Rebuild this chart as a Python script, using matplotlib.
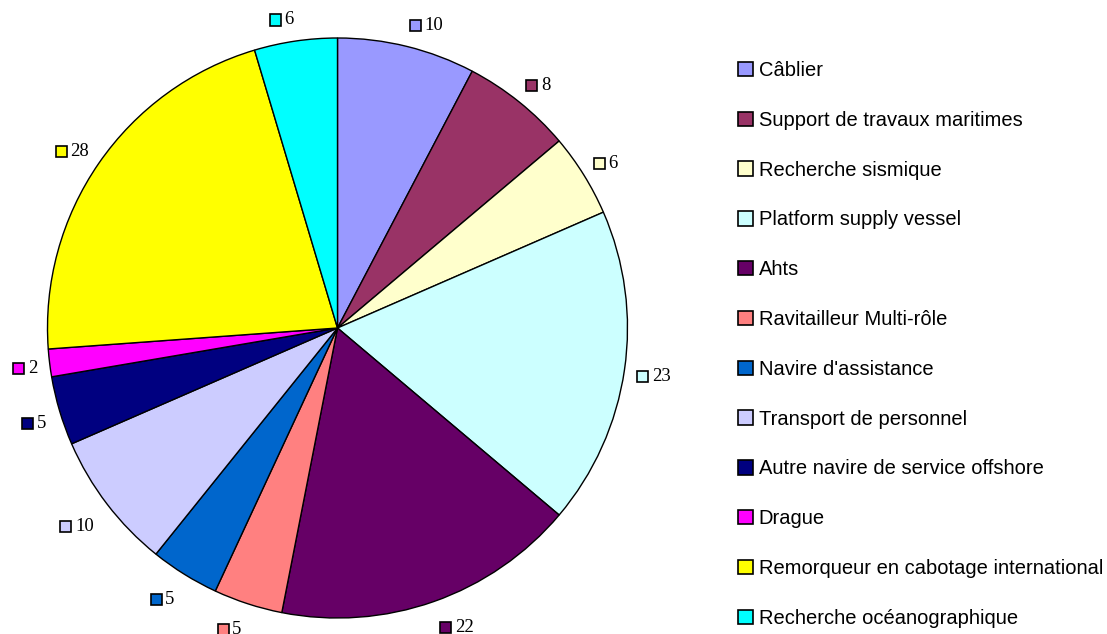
import matplotlib
matplotlib.use("Agg")
import matplotlib.pyplot as plt
import numpy as np
from matplotlib.patches import Rectangle, Patch
from matplotlib.offsetbox import DrawingArea, TextArea, HPacker, AnnotationBbox

categories = [
    "Câblier",
    "Support de travaux maritimes",
    "Recherche sismique",
    "Platform supply vessel",
    "Ahts",
    "Ravitailleur Multi-rôle",
    "Navire d'assistance",
    "Transport de personnel",
    "Autre navire de service offshore",
    "Drague",
    "Remorqueur en cabotage international",
    "Recherche océanographique",
]
values = [10, 8, 6, 23, 22, 5, 5, 10, 5, 2, 28, 6]
colors = ["#9999FF", "#993366", "#FFFFCC", "#CCFFFF", "#660066", "#FF8080",
          "#0066CC", "#CCCCFF", "#000080", "#FF00FF", "#FFFF00", "#00FFFF"]

W, H = 1107, 634
fig = plt.figure(figsize=(W / 100, H / 100), dpi=100)
cx, cy, r = 337.5, 328, 290
ax = fig.add_axes([(cx - r) / W, (H - cy - r) / H, 2 * r / W, 2 * r / H])
wedges, _ = ax.pie(values, colors=colors, startangle=90, counterclock=False,
                   radius=1.0, wedgeprops=dict(edgecolor="black", linewidth=1.0))
ax.set_xlim(-1, 1)
ax.set_ylim(-1, 1)
ax.set_aspect("equal")
ax.axis("off")

for w, v, c in zip(wedges, values, colors):
    ang = np.deg2rad((w.theta1 + w.theta2) / 2)
    cs, sn = np.cos(ang), np.sin(ang)
    rr = 1.04 + (0.03 * -sn if sn < 0 else 0.0)
    x, y = rr * cs, 1.04 * sn
    da = DrawingArea(8, 8, 0, 0)
    da.add_artist(Rectangle((0, 0), 8, 8, facecolor=c, edgecolor="black", linewidth=1.2))
    ta = TextArea(str(v), textprops=dict(family="Liberation Serif", fontsize=13.5, color="black"))
    pack = HPacker(children=[da, ta], align="center", pad=0, sep=2.5)
    if sn > 0:
        ay = 0.5 - 0.57 * sn
    else:
        ay = min(1.38, 0.55 - 1.7 * sn)
    ax_al = 0.0 if cs > 0 else 1.0
    ab = AnnotationBbox(pack, (x, y), xycoords="data", box_alignment=(ax_al, ay),
                        frameon=False, pad=0, annotation_clip=False)
    ax.add_artist(ab)

handles = [Patch(facecolor=c, edgecolor="black", linewidth=1.2) for c in colors]
fig.legend(handles, categories, loc="upper left",
           bbox_to_anchor=(738 / W, 1 - 61 / H), frameon=False,
           prop=dict(family="Liberation Sans", size=14.5),
           handlelength=0.72, handleheight=0.72, handletextpad=0.3,
           labelspacing=1.53, borderpad=0, borderaxespad=0)

fig.savefig("out.png", dpi=100, facecolor="white")
